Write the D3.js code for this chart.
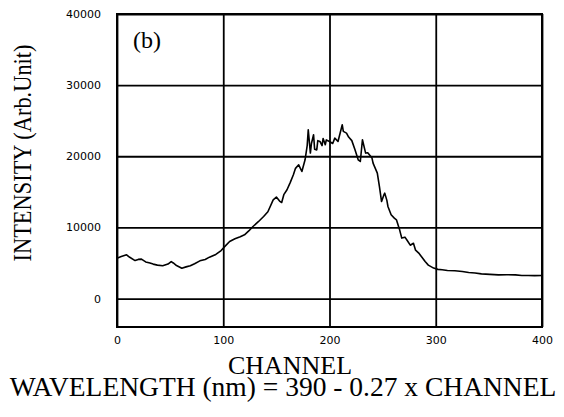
<!DOCTYPE html>
<html>
<head>
<meta charset="utf-8">
<script src="https://cdn.jsdelivr.net/npm/d3@7"></script>
</head>
<body style="margin:0">
<div id="chart"></div>
<script>
// spectrum read channel by channel
var channels = [0, 4, 9, 12, 17, 20, 23, 27, 31, 34, 38, 43, 48, 51, 53, 56, 61, 65, 69, 73,
  78, 83, 87, 93, 98, 102, 106, 111, 116, 120, 124, 128, 133, 138, 142, 147, 150, 153, 155, 157,
  160, 163, 166, 168, 171, 174, 177, 179, 180, 182, 183, 185, 186, 188, 189, 191, 193, 194, 196, 197,
  200, 203, 205, 208, 212, 213, 216, 218, 221, 224, 227, 229, 231, 234, 236, 240, 241, 245, 247, 249,
  251, 252, 254, 255, 258, 261, 263, 265, 266, 268, 271, 273, 276, 279, 281, 284, 287, 290, 293, 298,
  302, 306, 311, 318, 325, 331, 337, 343, 351, 359, 367, 375, 381, 387, 393, 400];
var intensity = [5680, 5900, 6150, 5800, 5340, 5500, 5540, 5150, 5000, 4840, 4700, 4600, 4850, 5200, 5000, 4640, 4270, 4450, 4600, 4900,
  5300, 5500, 5820, 6200, 6750, 7400, 8020, 8400, 8700, 8960, 9500, 10130, 10800, 11530, 12200, 13880, 14260, 13700, 13500, 14600,
  15290, 16300, 17400, 18300, 18800, 17860, 19500, 21500, 23730, 20450, 21800, 23020, 21000, 20900, 22200, 22080, 21500, 22500, 21620, 22300,
  22080, 21800, 22550, 22080, 24430, 23500, 23260, 22700, 22200, 20910, 19510, 19270, 22320, 20450, 20500, 19750, 19040, 17640, 15750, 13640,
  14500, 14820, 13800, 12940, 11770, 11300, 11070, 10130, 9660, 8500, 8630, 8200, 7500, 7770, 6800, 6390, 5800, 5200, 4700, 4280,
  4100, 4040, 3950, 3900, 3800, 3660, 3600, 3470, 3400, 3330, 3350, 3330, 3250, 3240, 3220, 3240];

var xTicks = [0, 100, 200, 300, 400];
var yTicks = [0, 10000, 20000, 30000, 40000];

// titles: text, position, size
var titles = [
  {text: "(b)", x: 133, y: 48, size: 24, anchor: "start"},
  {text: "CHANNEL", x: 290, y: 374, size: 26, anchor: "middle"},
  {text: "WAVELENGTH (nm) = 390 - 0.27 x CHANNEL", x: 283, y: 396, size: 27.5, anchor: "middle"},
  {text: "INTENSITY (Arb.Unit)", x: 31, y: 153, size: 26, anchor: "middle", rotate: true}
];

var margin = {top: 14, right: 22, bottom: 90, left: 117},
    width = 564 - margin.left - margin.right,
    height = 417 - margin.top - margin.bottom;

var svg = d3.select("#chart").append("svg")
    .attr("width", 564)
    .attr("height", 417);

// titles in the serif face
svg.selectAll("text.title")
  .data(titles)
  .enter().append("text")
  .attr("class", "title")
  .attr("transform", function(d) {
    return "translate(" + d.x + "," + d.y + ")" + (d.rotate ? " rotate(-90)" : "");
  })
  .attr("text-anchor", function(d) { return d.anchor; })
  .attr("textLength", function(d) { return d.rotate ? 217 : null; })
  .attr("lengthAdjust", function(d) { return d.rotate ? "spacingAndGlyphs" : null; })
  .style("font-family", "'Liberation Serif'")
  .style("font-size", function(d) { return d.size + "px"; })
  .text(function(d) { return d.text; });

var g = svg.append("g")
    .attr("transform", "translate(" + margin.left + "," + margin.top + ")");

var x = d3.scaleLinear().domain([0, 400]).range([0, width]);
var y = d3.scaleLinear().domain([-4000, 40000]).range([height, 0]);

// grid lines come from the axis ticks
var xAxis = d3.axisBottom(x).tickValues(xTicks).tickFormat(d3.format("d"))
  .tickSize(-height).tickSizeOuter(0).tickPadding(9);
var yAxis = d3.axisLeft(y).tickValues(yTicks).tickFormat(d3.format("d"))
  .tickSize(-width).tickSizeOuter(0).tickPadding(16);

g.append("g")
  .attr("transform", "translate(0," + height + ")")
  .call(xAxis);

g.append("g")
  .call(yAxis);

g.selectAll(".domain").remove();
g.selectAll(".tick line")
  .attr("stroke", "#000")
  .attr("stroke-width", 1.8);
g.selectAll(".tick text")
  .attr("fill", "#000")
  .style("font-family", "'DejaVu Sans'")
  .style("font-size", "11px");

// frame
g.append("rect")
  .attr("width", width)
  .attr("height", height)
  .attr("fill", "none")
  .attr("stroke", "#000")
  .attr("stroke-width", 2);

var spectrum = channels.map(function(c, i) { return {ch: c, v: intensity[i]}; });

var line = d3.line()
  .x(function(d) { return x(d.ch); })
  .y(function(d) { return y(d.v); });

g.append("path")
  .datum(spectrum)
  .attr("d", line)
  .attr("fill", "none")
  .attr("stroke", "#000")
  .attr("stroke-width", 1.6)
  .attr("stroke-linejoin", "round");
</script>
</body>
</html>
